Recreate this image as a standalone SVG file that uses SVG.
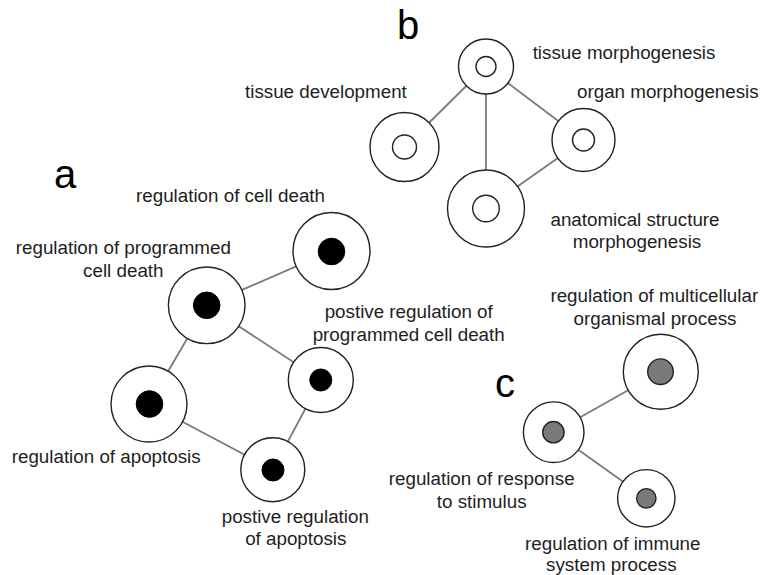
<svg xmlns="http://www.w3.org/2000/svg" width="761" height="575" viewBox="0 0 761 575">
<style>
.bg{fill:#ffffff}
.edge{stroke:#7a7a7a;stroke-width:1.8;fill:none}
.outer{fill:#ffffff;stroke:#222222;stroke-width:1.4}
.inW{fill:#ffffff;stroke:#222222;stroke-width:1.4}
.inB{fill:#000000;stroke:#000000;stroke-width:1}
.inG{fill:#7a7a7a;stroke:#222222;stroke-width:1.4}
.lbl{font-family:"Liberation Sans",Arial,sans-serif;font-size:18.8px;fill:#1e1e1e}
.mid{text-anchor:middle}
.big{font-family:"Liberation Sans",Arial,sans-serif;font-size:40px;fill:#000000}
</style>
<rect class="bg" x="0" y="0" width="761" height="575"/>
<g id="connectors">
  <line class="edge" x1="486" y1="66.5" x2="404.5" y2="147"/>
  <line class="edge" x1="486" y1="66.5" x2="486" y2="208.5"/>
  <line class="edge" x1="486" y1="66.5" x2="583.5" y2="140"/>
  <line class="edge" x1="583.5" y1="140" x2="486" y2="208.5"/>
  <line class="edge" x1="206.7" y1="305.3" x2="331.5" y2="251"/>
  <line class="edge" x1="206.7" y1="305.3" x2="320.8" y2="380"/>
  <line class="edge" x1="206.7" y1="305.3" x2="149" y2="404"/>
  <line class="edge" x1="149" y1="404" x2="272.8" y2="469.7"/>
  <line class="edge" x1="320.8" y1="380" x2="272.8" y2="469.7"/>
  <line class="edge" x1="553.7" y1="432.2" x2="660.8" y2="371.7"/>
  <line class="edge" x1="553.7" y1="432.2" x2="646.3" y2="498.3"/>
</g>
<g id="panel-labels">
  <text class="big" x="397" y="39">b</text>
  <text class="big" x="54" y="188">a</text>
  <text class="big" x="495" y="397">c</text>
</g>
<g id="tissue-morphogenesis">
  <circle class="outer" cx="486" cy="66.5" r="27.5"/>
  <circle class="inW" cx="486" cy="66.5" r="10"/>
  <text class="lbl mid" x="624" y="59">tissue morphogenesis</text>
</g>
<g id="tissue-development">
  <circle class="outer" cx="404.5" cy="147" r="34.5"/>
  <circle class="inW" cx="404.5" cy="147" r="12"/>
  <text class="lbl" x="245" y="98">tissue development</text>
</g>
<g id="organ-morphogenesis">
  <circle class="outer" cx="583.5" cy="140" r="31.5"/>
  <circle class="inW" cx="583.5" cy="140" r="11"/>
  <text class="lbl" x="577" y="98">organ morphogenesis</text>
</g>
<g id="anatomical-structure-morphogenesis">
  <circle class="outer" cx="486" cy="208.5" r="38.5"/>
  <circle class="inW" cx="486" cy="208.5" r="13.3"/>
  <text class="lbl mid" x="635" y="226">anatomical structure</text>
  <text class="lbl mid" x="637" y="248">morphogenesis</text>
</g>
<g id="regulation-of-cell-death">
  <circle class="outer" cx="331.5" cy="251" r="38.5"/>
  <circle class="inB" cx="331.5" cy="251.5" r="13.3"/>
  <text class="lbl" x="136" y="201.5">regulation of cell death</text>
</g>
<g id="regulation-of-programmed-cell-death">
  <circle class="outer" cx="206.7" cy="305.3" r="38.3"/>
  <circle class="inB" cx="206.7" cy="305.3" r="13.3"/>
  <text class="lbl mid" x="123.3" y="254">regulation of programmed</text>
  <text class="lbl mid" x="123.3" y="276.7">cell death</text>
</g>
<g id="postive-regulation-of-programmed-cell-death">
  <circle class="outer" cx="320.8" cy="380" r="32.5"/>
  <circle class="inB" cx="320.8" cy="380" r="11"/>
  <text class="lbl mid" x="408.7" y="318">postive regulation of</text>
  <text class="lbl mid" x="408.7" y="341">programmed cell death</text>
</g>
<g id="regulation-of-apoptosis">
  <circle class="outer" cx="149" cy="404" r="38"/>
  <circle class="inB" cx="149.5" cy="404" r="13.3"/>
  <text class="lbl" x="11.7" y="463.3">regulation of apoptosis</text>
</g>
<g id="postive-regulation-of-apoptosis">
  <circle class="outer" cx="272.8" cy="469.7" r="32"/>
  <circle class="inB" cx="273" cy="470" r="11"/>
  <text class="lbl mid" x="295.3" y="523.3">postive regulation</text>
  <text class="lbl mid" x="295.8" y="545">of apoptosis</text>
</g>
<g id="regulation-of-multicellular-organismal-process">
  <circle class="outer" cx="660.8" cy="371.7" r="37.5"/>
  <circle class="inG" cx="660.5" cy="371.7" r="12.8"/>
  <text class="lbl mid" x="654.3" y="301.7">regulation of multicellular</text>
  <text class="lbl mid" x="655" y="325">organismal process</text>
</g>
<g id="regulation-of-response-to-stimulus">
  <circle class="outer" cx="553.7" cy="432.2" r="30.3"/>
  <circle class="inG" cx="553.4" cy="432.2" r="10.7"/>
  <text class="lbl mid" x="481.7" y="485">regulation of response</text>
  <text class="lbl mid" x="481.7" y="508">to stimulus</text>
</g>
<g id="regulation-of-immune-system-process">
  <circle class="outer" cx="646.3" cy="498.3" r="28.7"/>
  <circle class="inG" cx="646.3" cy="498.3" r="9.7"/>
  <text class="lbl mid" x="612.8" y="550">regulation of immune</text>
  <text class="lbl mid" x="611.3" y="571">system process</text>
</g>
</svg>
